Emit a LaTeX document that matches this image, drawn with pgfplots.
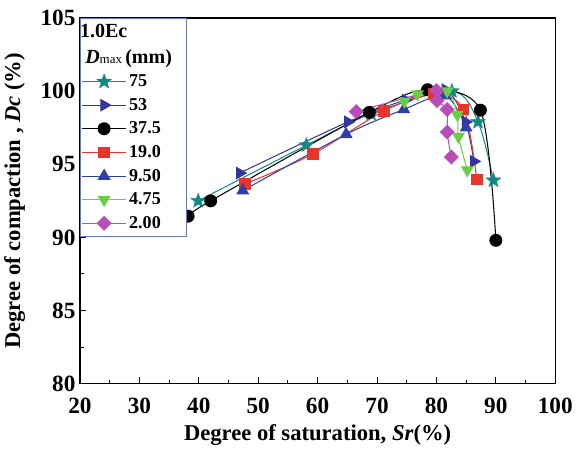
\documentclass[border=0pt]{standalone}
\usepackage{pgfplots}
\pgfplotsset{compat=1.18}
\usepackage{fontspec}
\setmainfont{Liberation Serif}
\definecolor{cteal}{HTML}{128A84}
\definecolor{cnavy}{HTML}{3535A0}
\definecolor{cred}{HTML}{E8352B}
\definecolor{cblue}{HTML}{2E40A8}
\definecolor{cgreen}{HTML}{6ACD48}
\definecolor{cpink}{HTML}{B84DB8}
\definecolor{cleg}{HTML}{6A78C8}
\pgfdeclareplotmark{fstar}{%
  \pgfpathmoveto{\pgfpointpolar{90}{1.2\pgfplotmarksize}}%
  \pgfpathlineto{\pgfpointpolar{126}{0.5\pgfplotmarksize}}%
  \pgfpathlineto{\pgfpointpolar{162}{1.2\pgfplotmarksize}}%
  \pgfpathlineto{\pgfpointpolar{198}{0.5\pgfplotmarksize}}%
  \pgfpathlineto{\pgfpointpolar{234}{1.2\pgfplotmarksize}}%
  \pgfpathlineto{\pgfpointpolar{270}{0.5\pgfplotmarksize}}%
  \pgfpathlineto{\pgfpointpolar{306}{1.2\pgfplotmarksize}}%
  \pgfpathlineto{\pgfpointpolar{342}{0.5\pgfplotmarksize}}%
  \pgfpathlineto{\pgfpointpolar{18}{1.2\pgfplotmarksize}}%
  \pgfpathlineto{\pgfpointpolar{54}{0.5\pgfplotmarksize}}%
  \pgfpathclose\pgfusepathqfillstroke}
\begin{document}
\begin{tikzpicture}
\begin{axis}[
  width=368pt, height=283pt, scale only axis,
  xmin=20, xmax=100, ymin=80, ymax=105,
  xtick={20,30,...,100}, ytick={80,85,...,105},
  minor x tick num=1, minor y tick num=1,
  tick pos=left, tick align=inside,
  major tick length=5pt, minor tick length=3pt,
  tick style={black, line width=0.8pt},
  axis line style={line width=1pt},
  /pgf/number format/assume math mode=true,
  ticklabel style={font=\fontsize{18}{18}\selectfont\bfseries},
  xticklabel style={yshift=-8pt},
  xlabel={Degree of saturation, \textit{Sr}(\%)},
  ylabel={Degree of compaction , \textit{Dc} (\%)},
  label style={font=\fontsize{17.5}{18}\selectfont\bfseries},
  xlabel style={yshift=-1pt},
  ylabel style={yshift=5pt},
  legend style={at={(0,1)}, anchor=north west, draw=cleg, line width=0.6pt,
    font=\fontsize{14}{14}\selectfont\bfseries, row sep=3.5pt, inner xsep=1pt, inner ysep=2.5pt,
    cells={anchor=west}},
  legend image code/.code={\draw[mark repeat=2,mark phase=2,#1] plot coordinates {(0pt,0pt) (17pt,0pt) (34pt,0pt)};},
  every axis plot/.append style={line width=0.8pt, smooth, tension=0.5},
]
\addlegendimage{empty legend}
\addlegendentry{\makebox[0pt][l]{\hspace*{-38pt}\fontsize{15.5}{16}\selectfont 1.0Ec}}
\addlegendimage{empty legend}
\addlegendentry{\hspace*{-34pt}\fontsize{15.5}{16}\selectfont\textit{D}\textmd{\fontsize{10}{10}\selectfont max}\,(mm)\hspace*{8pt}}

\addplot[color=cteal, mark=fstar, mark size=5pt, mark options={fill=cteal, line width=0.3pt}] coordinates {
(39.9,92.5) (58.1,96.3) (69.0,98.45) (82.6,100.0) (87.0,97.9) (89.6,93.9)};
\addlegendentry{75}
\addplot[color=cnavy, mark=triangle*, mark size=5pt, mark options={rotate=-90, fill=cnavy}] coordinates {
(46.9,94.4) (65.1,97.9) (74.8,99.4) (81.5,100.1) (84.9,97.9) (86.3,95.2)};
\addlegendentry{53}
\addplot[color=black, mark=*, mark size=4.6pt, mark options={fill=black}] coordinates {
(38.2,91.45) (42.0,92.5) (68.7,98.55) (78.5,100.1) (87.4,98.7) (90.0,89.8)};
\addlegendentry{37.5}
\addplot[color=cred, mark=square*, mark size=4pt, mark options={fill=cred}] coordinates {
(47.8,93.65) (59.2,95.7) (71.2,98.65) (79.5,99.8) (84.6,98.75) (86.8,93.95)};
\addlegendentry{19.0}
\addplot[color=cblue, mark=triangle*, mark size=5pt, mark options={fill=cblue}] coordinates {
(47.4,93.2) (64.8,97.05) (74.5,98.75) (81.5,99.7) (85.0,97.5)};
\addlegendentry{9.50}
\addplot[color=cgreen, mark=triangle*, mark size=5pt, mark options={rotate=180, fill=cgreen}] coordinates {
(74.6,99.3) (76.8,99.8) (81.8,100.0) (83.5,98.4) (83.7,96.9) (85.2,94.6)};
\addlegendentry{4.75}
\addplot[color=cpink, mark=square*, mark size=3.7pt, mark options={rotate=45, fill=cpink}] coordinates {
(66.5,98.6) (80.0,100.05) (80.1,99.35) (81.8,98.75) (81.8,97.2) (82.5,95.5)};
\addlegendentry{2.00}
\end{axis}
\path ([yshift=14pt]current axis.north);
\end{tikzpicture}
\end{document}
